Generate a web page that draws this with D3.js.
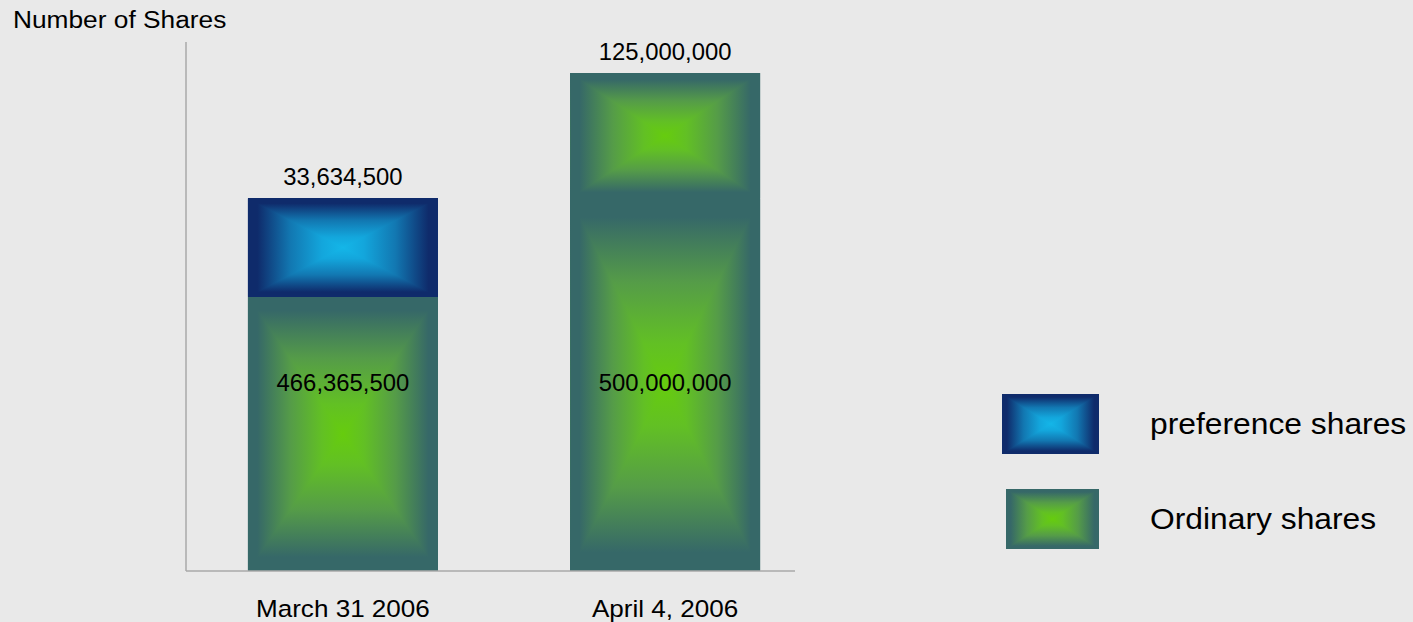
<!DOCTYPE html>
<html>
<head>
<meta charset="utf-8">
<script src="https://cdn.jsdelivr.net/npm/d3@7"></script>
<style>
  html, body { margin: 0; padding: 0; background: #e9e9e9; }
  svg { display: block; font-family: "Liberation Sans", Arial, sans-serif; }
</style>
</head>
<body>
<script>
// Share capital before and after the reorganisation
const dates = ["March 31 2006", "April 4, 2006"];
const ordinaryShares = [466365500, 500000000];
const upperShares = [33634500, 125000000];
const upperKind = ["preference", "ordinary"];
const seriesNames = ["preference shares", "Ordinary shares"];
const yTitle = "Number of Shares";

const W = 1413, H = 622;
const svg = d3.select("body").append("svg").attr("width", W).attr("height", H);

// rectangular ("box") gradients: dark at the edges, bright in the centre
const palettes = {
  preference: { edge: "#0f2b6b", mid: "#1278b2", near: "#13a6dc", center: "#14b6e8" },
  ordinary:   { edge: "#366868", mid: "#559c48", near: "#62c024", center: "#66cc0e" }
};
const defs = svg.append("defs");
Object.entries(palettes).forEach(([key, p]) => {
  const stops = [[0, p.edge], [0.1, p.edge], [0.45, p.mid], [0.78, p.near], [1, p.center]];
  ["v", "h"].forEach(dir => {
    const lg = defs.append("linearGradient").attr("id", `grad-${key}-${dir}`)
      .attr("x1", 0).attr("y1", 0)
      .attr("x2", dir === "h" ? 1 : 0).attr("y2", dir === "v" ? 1 : 0);
    stops.forEach(([t, c]) => lg.append("stop").attr("offset", t / 2).attr("stop-color", c));
    stops.slice().reverse().forEach(([t, c]) => lg.append("stop").attr("offset", 1 - t / 2).attr("stop-color", c));
  });
});

function boxGradient(g, x, y, w, h, key) {
  g.append("rect").attr("x", x).attr("y", y).attr("width", w).attr("height", h)
    .attr("shape-rendering", "crispEdges")
    .attr("fill", `url(#grad-${key}-v)`);
  const cx = x + w / 2, cy = y + h / 2;
  g.append("polygon")
    .attr("points", [[x, y], [cx, cy], [x + w, y], [x + w, y + h], [cx, cy], [x, y + h]].map(p => p.join(",")).join(" "))
    .attr("fill", `url(#grad-${key}-h)`);
}

// text helper with a slight horizontal stretch
function label(g, x, y, str, size, stretch, anchor) {
  return g.append("text")
    .attr("transform", `translate(${x},${y}) scale(${stretch},1)`)
    .attr("text-anchor", anchor || "start")
    .attr("font-size", size).attr("fill", "#000").text(str);
}

// plot area
const plot = { left: 186, right: 795, top: 42, bottom: 571 };
const ph = plot.bottom - plot.top;

const x = d3.scaleBand().domain(dates).range([plot.left, plot.right])
  .paddingInner(0.41).paddingOuter(0.15).align(0.64);

// the diagram is not drawn to proportion: a piecewise scale through the stack breakpoints
const totals = dates.map((d, i) => ordinaryShares[i] + upperShares[i]);
const y = d3.scaleLinear()
  .domain([0, ordinaryShares[0], totals[0], d3.max(totals)])
  .range([plot.bottom, plot.bottom - 0.518 * ph, plot.bottom - 0.7042 * ph, plot.bottom - 0.9414 * ph]);

// y axis line
svg.append("line").attr("x1", plot.left).attr("x2", plot.left)
  .attr("y1", plot.top).attr("y2", plot.bottom).attr("stroke", "#a8a8a8").attr("stroke-width", 1.5);

const bars = svg.append("g");
dates.forEach((d, i) => {
  const bx = x(d), bw = x.bandwidth();
  const g = bars.append("g");
  boxGradient(g, bx, y(ordinaryShares[i]), bw, y(0) - y(ordinaryShares[i]), "ordinary");
  boxGradient(g, bx, y(totals[i]), bw, y(ordinaryShares[i]) - y(totals[i]), upperKind[i]);
});

// x axis line
svg.append("line").attr("x1", plot.left).attr("x2", plot.right)
  .attr("y1", plot.bottom).attr("y2", plot.bottom).attr("stroke", "#a8a8a8").attr("stroke-width", 1.5);

const fmt = d3.format(",");
const numFont = 23.4;
const cx = d => x(d) + x.bandwidth() / 2;

// values of the upper segments above the bars
const topLabels = svg.append("g");
dates.forEach((d, i) => label(topLabels, cx(d), y(totals[i]) - 13, fmt(upperShares[i]), numFont, 1.02, "middle"));

// values of the ordinary segments, on one row at the middle of the tallest one
const rowY = d3.min(ordinaryShares, v => (y(0) + y(v)) / 2);
const innerLabels = svg.append("g");
dates.forEach((d, i) => label(innerLabels, cx(d), rowY + 6, fmt(ordinaryShares[i]), numFont, 1.02, "middle"));

// category labels
const catLabels = svg.append("g");
dates.forEach(d => label(catLabels, cx(d), 617, d, 23.7, 1.1, "middle"));

label(svg, 13, 28, yTitle, 23.7, 1.11);

// legend
const legend = svg.append("g");
const legendItems = [
  { name: seriesNames[0], key: "preference", x: 1002, y: 394, w: 97, h: 60 },
  { name: seriesNames[1], key: "ordinary", x: 1006, y: 489, w: 93, h: 60 }
];
legendItems.forEach(it => {
  boxGradient(legend, it.x, it.y, it.w, it.h, it.key);
  label(legend, 1150, it.y + it.h / 2 + 10, it.name, 30, 1.06);
});
</script>
</body>
</html>
